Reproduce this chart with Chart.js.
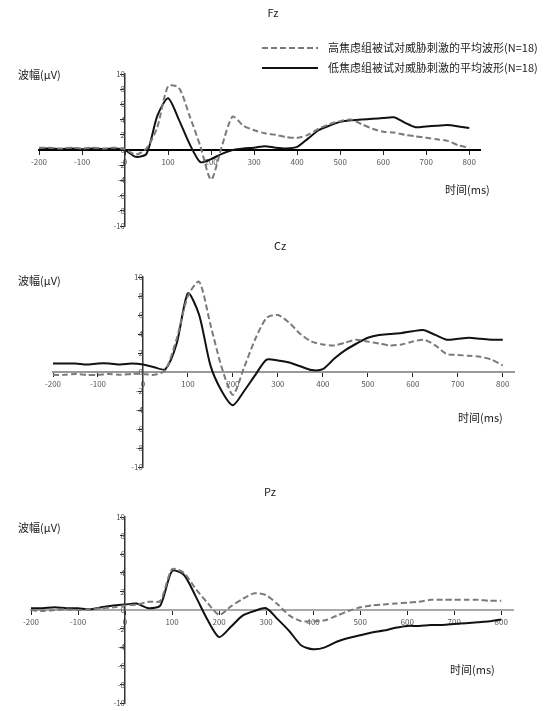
<!DOCTYPE html>
<html lang="zh">
<head>
<meta charset="UTF-8">
<title>ERP 波形</title>
<script src="https://cdn.jsdelivr.net/npm/chart.js"></script>
<style>
  body { margin: 0; background: #fff; width: 547px; height: 711px; overflow: hidden; }
  canvas { position: absolute; left: 0; }
</style>
</head>
<body>
<canvas id="fz" width="547" height="240" style="top:0"></canvas>
<canvas id="cz" width="547" height="240" style="top:240px"></canvas>
<canvas id="pz" width="547" height="241" style="top:470px"></canvas>
<script>
// time points (ms) shared by all three electrodes
const times = [-200,-175,-150,-125,-100,-75,-50,-25,0,25,50,75,100,125,150,175,200,225,250,275,
  300,325,350,375,400,425,450,475,500,525,550,575,600,625,650,675,700,725,750,775,800];

const seriesNames = ["高焦虑组被试对威胁刺激的平均波形(N=18)", "低焦虑组被试对威胁刺激的平均波形(N=18)"];
const yTicks = [-10, -8, -6, -4, -2, 0, 2, 4, 6, 8, 10];
const xTicks = [-200, -100, 0, 100, 200, 300, 400, 500, 600, 700, 800];

// Fz
const fzHigh = [0.3,0.3,0.2,0.3,0.2,0.3,0.2,0.3,0.1,-0.6,0.2,3.0,8.4,8.2,4.5,0.5,-3.9,0.5,4.4,3.2,
  2.6,2.2,2.0,1.7,1.6,2.0,2.8,3.4,3.8,4.0,3.4,2.8,2.4,2.3,2.0,1.8,1.6,1.4,1.2,0.6,0.3];
const fzLow = [0.2,0.2,0.1,0.2,0.1,0.2,0.1,0.2,0.0,-0.9,-0.5,4.5,6.8,4.0,0.8,-1.6,-1.2,-0.5,0.0,0.2,
  0.3,0.5,0.3,0.2,0.4,1.5,2.6,3.2,3.7,3.9,4.0,4.1,4.2,4.3,3.6,3.0,3.1,3.2,3.3,3.1,2.9];

// Cz
const czHigh = [-0.3,-0.3,-0.2,-0.3,-0.3,-0.2,-0.3,-0.2,-0.2,-0.3,0.2,3.5,8.0,9.5,5.0,0.5,-2.4,0.5,3.5,5.7,
  6.0,5.2,4.0,3.2,2.9,2.8,3.1,3.4,3.2,3.0,2.8,2.9,3.2,3.4,2.8,1.9,1.8,1.7,1.6,1.3,0.7];
const czLow = [0.9,0.9,0.9,0.8,0.9,0.9,0.8,0.9,0.8,0.5,0.3,3.0,8.3,6.0,0.7,-2.0,-3.5,-2.0,-0.3,1.3,
  1.2,1.0,0.6,0.2,0.3,1.4,2.3,3.0,3.6,3.9,4.0,4.1,4.3,4.4,3.9,3.4,3.5,3.6,3.5,3.4,3.4];

// Pz
const pzHigh = [0.0,-0.1,0.0,0.1,0.0,0.1,0.2,0.3,0.5,0.6,0.9,1.0,4.4,4.0,2.3,0.8,-0.5,0.4,1.2,1.8,
  1.6,0.6,-0.6,-1.2,-1.2,-1.1,-0.6,-0.1,0.3,0.5,0.6,0.7,0.8,0.9,1.1,1.1,1.1,1.1,1.1,1.0,1.0];
const pzLow = [0.2,0.2,0.3,0.2,0.2,0.1,0.3,0.5,0.6,0.7,0.2,0.5,4.2,3.8,1.5,-1.0,-2.9,-1.8,-0.6,-0.1,
  0.2,-1.0,-2.3,-3.8,-4.2,-4.0,-3.4,-3.0,-2.7,-2.4,-2.2,-1.9,-1.7,-1.7,-1.6,-1.6,-1.5,-1.4,-1.3,-1.2,-1.0];

const font = '"Noto Sans CJK SC", "Noto Sans", sans-serif';

// title, axis names and the legend, drawn at fixed spots of each panel
const panelText = {
  id: "panelText",
  afterDraw(chart, args, o) {
    const ctx = chart.ctx;
    ctx.save();
    ctx.fillStyle = "#222";
    ctx.textBaseline = "middle";
    ctx.font = "11px " + font;
    ctx.textAlign = "center";
    ctx.fillText(o.title, o.title_xy[0], o.title_xy[1]);
    ctx.textAlign = "left";
    ctx.fillText("波幅(μV)", o.ylab_xy[0], o.ylab_xy[1]);
    ctx.fillText("时间(ms)", o.xlab_xy[0], o.xlab_xy[1]);
    if (o.legend) {
      chart.data.datasets.forEach((ds, i) => {
        const y = o.legend[1] + i * 20;
        ctx.beginPath();
        ctx.setLineDash(ds.borderDash || []);
        ctx.strokeStyle = ds.borderColor;
        ctx.lineWidth = ds.borderWidth;
        ctx.moveTo(o.legend[0], y);
        ctx.lineTo(o.legend[0] + 56, y);
        ctx.stroke();
        ctx.setLineDash([]);
        ctx.fillText(ds.label, o.legend[0] + 66, y);
      });
    }
    ctx.restore();
  }
};

function makeChart(id, high, low, pad, axisColor, text) {
  new Chart(document.getElementById(id), {
    type: "line",
    data: {
      labels: times,
      datasets: [
        {
          label: seriesNames[0],
          data: high,
          borderColor: "#7a7a7a",
          borderWidth: 2,
          borderDash: [6, 3],
          pointRadius: 0,
          tension: 0.25,
        },
        {
          label: seriesNames[1],
          data: low,
          borderColor: "#111",
          borderWidth: 2,
          pointRadius: 0,
          tension: 0.25,
        },
      ],
    },
    options: {
      responsive: false,
      animation: false,
      layout: { padding: pad },
      plugins: { legend: { display: false }, tooltip: { enabled: false }, panelText: text },
      scales: {
        x: {
          type: "linear",
          min: -200,
          max: 825,
          position: { y: 0 },
          afterBuildTicks: (s) => {
            s.ticks = xTicks.map((v) => ({ value: v }));
          },
          ticks: { color: "#555", font: { size: 8, family: font }, maxRotation: 0, autoSkip: false },
          grid: { drawOnChartArea: false, tickLength: 4, color: "#222" },
          border: { color: axisColor, width: 2 },
        },
        y: {
          min: yTicks[0],
          max: yTicks[yTicks.length - 1],
          position: { x: 0 },
          afterBuildTicks: (s) => {
            s.ticks = yTicks.map((v) => ({ value: v }));
          },
          ticks: { color: "#555", font: { size: 8, family: font }, autoSkip: false },
          grid: { drawOnChartArea: false, tickLength: 4, color: "#222" },
          border: { color: "#333", width: 1.5 },
        },
      },
    },
    plugins: [panelText],
  });
}

makeChart("fz", fzHigh, fzLow, { left: 39, right: 67, top: 74, bottom: 14 }, "#000", {
  title: "Fz", title_xy: [273, 13], ylab_xy: [18, 75], xlab_xy: [445, 190], legend: [262, 48],
});
makeChart("cz", czHigh, czLow, { left: 53, right: 33, top: 37, bottom: 13 }, "#999", {
  title: "Cz", title_xy: [280, 6], ylab_xy: [18, 41], xlab_xy: [458, 178],
});
makeChart("pz", pzHigh, pzLow, { left: 31, right: 34, top: 47, bottom: 4 }, "#aaa", {
  title: "Pz", title_xy: [270, 22], ylab_xy: [18, 58], xlab_xy: [450, 200],
});
</script>
</body>
</html>
